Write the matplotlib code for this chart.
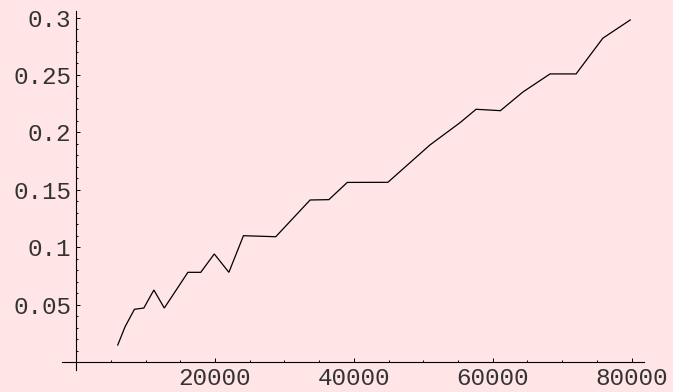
import matplotlib
matplotlib.use("Agg")
import matplotlib.pyplot as plt
from matplotlib.ticker import FixedLocator, FixedFormatter

# Sample sizes and measured values
n_values = [6000, 7050, 8400, 9750, 11200, 12700, 16100, 17950, 19900, 22000,
            24100, 28750, 33700, 36400, 39050, 44900, 50950, 55300, 57600,
            61100, 64350, 68250, 72000, 75850, 79800]
rates = [0.0148, 0.0307, 0.0459, 0.0470, 0.0627, 0.0470, 0.0781, 0.0781,
         0.0941, 0.0781, 0.1100, 0.1091, 0.1411, 0.1414, 0.1564, 0.1565,
         0.1890, 0.2085, 0.2201, 0.2189, 0.2352, 0.2509, 0.2509, 0.2820,
         0.2979]

x_ticks = [20000, 40000, 60000, 80000]
x_tick_labels = ["20000", "40000", "60000", "80000"]
y_ticks = [0.05, 0.1, 0.15, 0.2, 0.25, 0.3]
y_tick_labels = ["0.05", "0.1", "0.15", "0.2", "0.25", "0.3"]

bg = "#FFE5E5"
W, H = 673, 392
fig = plt.figure(figsize=(W / 100, H / 100), dpi=100, facecolor=bg)
ax = fig.add_axes([62 / W, 22 / H, 582 / W, 359 / H])
ax.set_facecolor(bg)

ax.plot(n_values, rates, color="black", linewidth=0.9, solid_joinstyle="miter")

ax.set_xlim(-2030, 81780)
ax.set_ylim(-0.00697, 0.3057)

for side in ("top", "right"):
    ax.spines[side].set_visible(False)
ax.spines["left"].set_position(("data", 0))
ax.spines["bottom"].set_position(("data", 0))
for side in ("left", "bottom"):
    ax.spines[side].set_linewidth(0.8)

ax.xaxis.set_major_locator(FixedLocator(x_ticks))
ax.xaxis.set_major_formatter(FixedFormatter(x_tick_labels))
ax.xaxis.set_minor_locator(FixedLocator([v for v in range(5000, 80001, 5000)
                                         if v not in x_ticks]))
ax.yaxis.set_major_locator(FixedLocator(y_ticks))
ax.yaxis.set_major_formatter(FixedFormatter(y_tick_labels))
ax.yaxis.set_minor_locator(FixedLocator([i / 100 for i in range(1, 31)
                                         if i % 5 != 0]))

ax.tick_params(which="both", direction="in", width=0.7, color="black")
ax.tick_params(which="major", length=3.0)
ax.tick_params(which="minor", length=1.6)
ax.tick_params(axis="x", which="major", pad=3.5)
ax.tick_params(axis="y", which="major", pad=3.6)

for lbl in ax.get_xticklabels() + ax.get_yticklabels():
    lbl.set_fontfamily("Liberation Mono")
    lbl.set_fontsize(17.5)
    lbl.set_color("#333333")

fig.savefig("out.png", dpi=100, facecolor=bg)
